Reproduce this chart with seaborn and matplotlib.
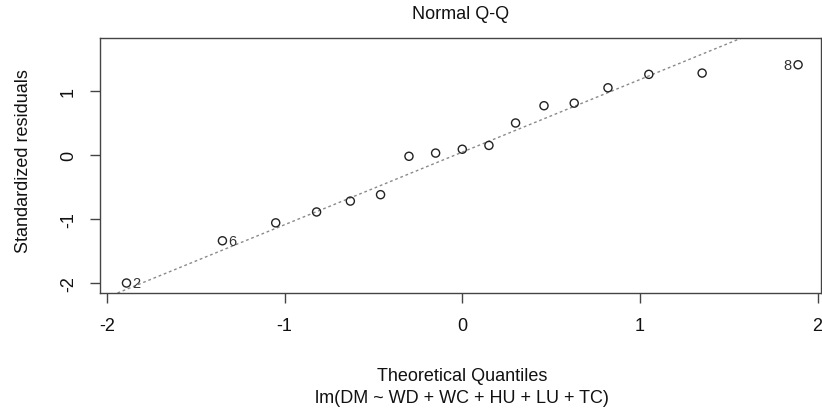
import numpy as np
import pandas as pd
import seaborn as sns
import matplotlib
matplotlib.use("Agg")
import matplotlib.pyplot as plt

# Data
theoretical = [-1.89, -1.35, -1.05, -0.82, -0.63, -0.46, -0.30, -0.15, 0.00,
               0.15, 0.30, 0.46, 0.63, 0.82, 1.05, 1.35, 1.89]
std_resid = [-2.00, -1.34, -1.06, -0.89, -0.72, -0.62, -0.02, 0.03, 0.09,
             0.15, 0.50, 0.77, 0.81, 1.05, 1.26, 1.28, 1.41]
obs_labels = ["2", "6", "", "", "", "", "", "", "", "", "", "", "", "", "", "", "8"]
normal_quartiles = [-0.6745, 0.6745]   # standard normal 25% / 75% quantiles (qqline)
x_ticks = [-2, -1, 0, 1, 2]
y_ticks = [-2, -1, 0, 1]
title = "Normal Q-Q"
x_label = "Theoretical Quantiles"
y_label = "Standardized residuals"
subtitle = "lm(DM ~ WD + WC + HU + LU + TC)"

df = pd.DataFrame({"theoretical": theoretical, "resid": std_resid, "label": obs_labels})

sns.set_theme(style="ticks")
plt.rcParams["font.family"] = ["Liberation Sans", "DejaVu Sans"]
plt.rcParams["axes.unicode_minus"] = False

W, H = 822, 410
fig = plt.figure(figsize=(W / 100, H / 100), dpi=100)
ax = fig.add_axes([100 / W, 1 - 294 / H, 721 / W, 255 / H])

# Q-Q reference line through the quartiles (as R's qqline)
yq = np.percentile(df["resid"], [25, 75])
slope = (yq[1] - yq[0]) / (normal_quartiles[1] - normal_quartiles[0])
intercept = yq[0] - slope * normal_quartiles[0]
ax.axline((0, intercept), slope=slope, color="#8a8a8a", lw=1.0,
          linestyle=(0, (2, 2)), zorder=1)

sns.scatterplot(data=df, x="theoretical", y="resid", ax=ax, marker="o", s=34,
                facecolors="none", edgecolor="#222222", linewidth=1.0, zorder=3)

for _, r in df.iterrows():
    if r["label"]:
        if r["theoretical"] > 0:
            ax.annotate(r["label"], (r["theoretical"], r["resid"]), xytext=(-5, 0),
                        textcoords="offset points", ha="right", va="center",
                        fontsize=10.5, color="#333333")
        else:
            ax.annotate(r["label"], (r["theoretical"], r["resid"]), xytext=(4.5, 0),
                        textcoords="offset points", ha="left", va="center",
                        fontsize=10.5, color="#333333")

ax.set_xlim(-2.039, 2.019)
ax.set_ylim(-2.156, 1.828)
ax.set_xticks(x_ticks)
ax.set_yticks(y_ticks)
ax.set_xticklabels([str(t) for t in x_ticks])
ax.set_yticklabels([str(t) for t in y_ticks], rotation=90, va="center")

for s in ax.spines.values():
    s.set_visible(True)
    s.set_color("#444444")
    s.set_linewidth(1.0)
ax.tick_params(axis="both", direction="out", length=7.5, width=1.0,
               color="#444444", labelsize=13, labelcolor="#111111")
ax.tick_params(axis="x", pad=10)
ax.tick_params(axis="y", pad=9)

ax.set_xlabel("")
ax.set_ylabel("")
ax.set_title(title, fontsize=13, color="#111111", y=1 + (39 - 23) / 255, va="center")
fig.text(462 / W, 1 - 377 / H, x_label, ha="center", va="center", fontsize=13, color="#111111")
fig.text(462 / W, 1 - 399 / H, subtitle, ha="center", va="center", fontsize=13, color="#111111")
fig.text(23 / W, 1 - 161 / H, y_label, ha="center", va="center", rotation=90,
         fontsize=13, color="#111111")

fig.savefig("out.png", dpi=100, facecolor="white")
